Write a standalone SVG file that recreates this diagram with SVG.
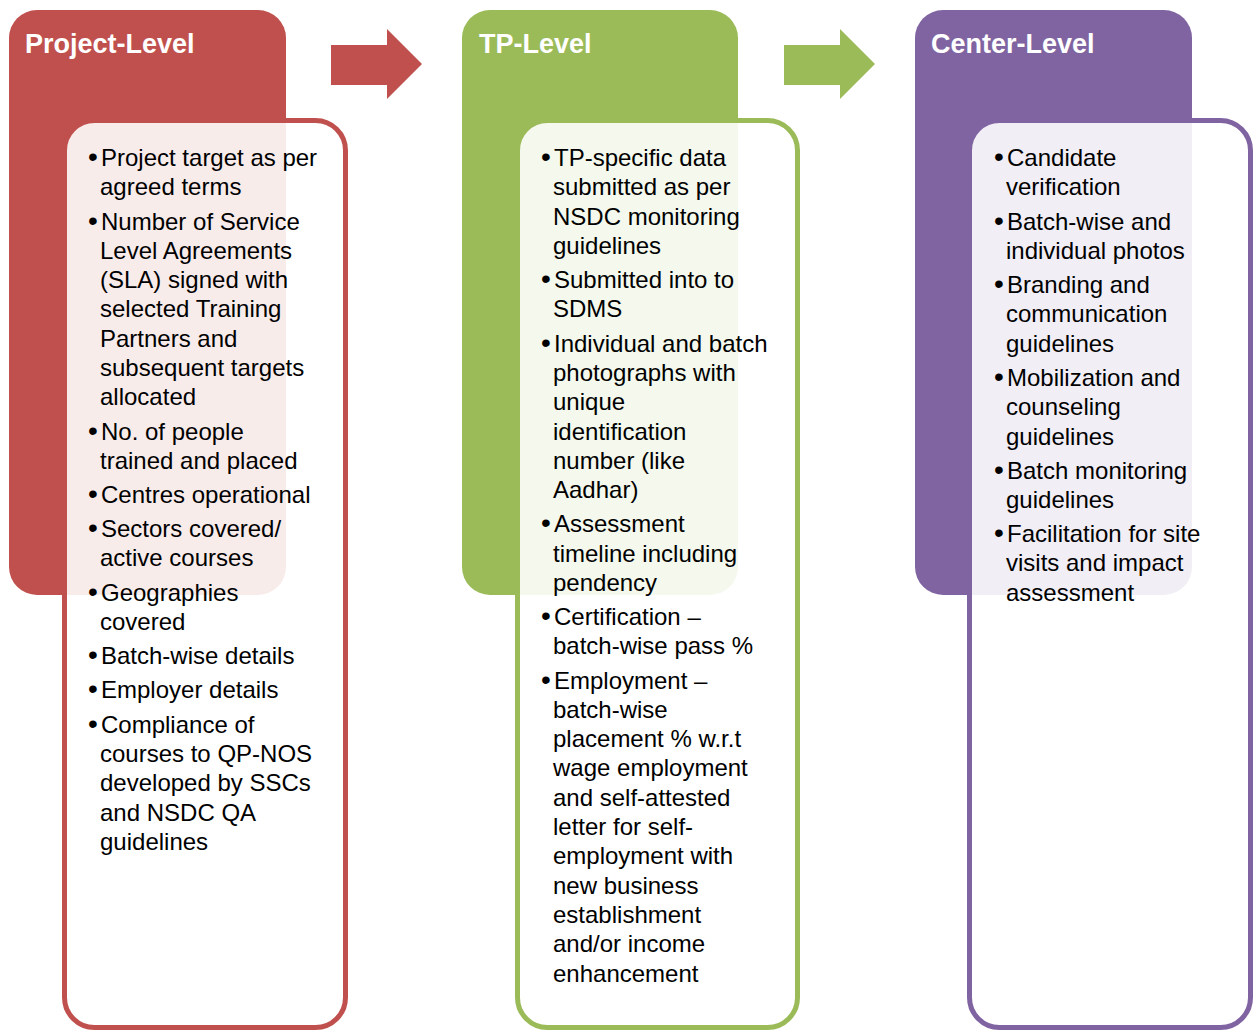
<svg xmlns="http://www.w3.org/2000/svg" width="1253" height="1030" viewBox="0 0 1253 1030">
<style>
.h{font-family:"Liberation Sans",Arial,sans-serif;font-weight:bold;font-size:27px;fill:#fff}
.t{font-family:"Liberation Sans",Arial,sans-serif;font-size:24px;fill:#000}
.b{font-size:28px}
.box{stroke-width:5;fill:#fff;fill-opacity:0.89}
</style>
<rect width="1253" height="1030" fill="#fff"/>
<g id="connectors">
<polygon points="331,45 387,45 387,29 422,64 387,99 387,85 331,85" fill="#C0504D"/>
<polygon points="784,45 840,45 840,29 875,64 840,99 840,85 784,85" fill="#9BBB59"/>
</g>
<g id="project-level">
<rect x="9" y="10" width="277" height="585" rx="28" fill="#C0504D"/>
<text class="h" x="25" y="53">Project-Level</text>
<rect class="box" x="64.5" y="120.5" width="281" height="907" rx="30" stroke="#C0504D"/>
<g class="t">
<text x="88" y="166"><tspan class="b">•</tspan><tspan x="101">Project target as per</tspan></text>
<text x="100" y="195">agreed terms</text>
<text x="88" y="230"><tspan class="b">•</tspan><tspan x="101">Number of Service</tspan></text>
<text x="100" y="259">Level Agreements</text>
<text x="100" y="288">(SLA) signed with</text>
<text x="100" y="317">selected Training</text>
<text x="100" y="347">Partners and</text>
<text x="100" y="376">subsequent targets</text>
<text x="100" y="405">allocated</text>
<text x="88" y="440"><tspan class="b">•</tspan><tspan x="101">No. of people</tspan></text>
<text x="100" y="469">trained and placed</text>
<text x="88" y="503"><tspan class="b">•</tspan><tspan x="101">Centres operational</tspan></text>
<text x="88" y="537"><tspan class="b">•</tspan><tspan x="101">Sectors covered/</tspan></text>
<text x="100" y="566">active courses</text>
<text x="88" y="601"><tspan class="b">•</tspan><tspan x="101">Geographies</tspan></text>
<text x="100" y="630">covered</text>
<text x="88" y="664"><tspan class="b">•</tspan><tspan x="101">Batch-wise details</tspan></text>
<text x="88" y="698"><tspan class="b">•</tspan><tspan x="101">Employer details</tspan></text>
<text x="88" y="733"><tspan class="b">•</tspan><tspan x="101">Compliance of</tspan></text>
<text x="100" y="762">courses to QP-NOS</text>
<text x="100" y="791">developed by SSCs</text>
<text x="100" y="821">and NSDC QA</text>
<text x="100" y="850">guidelines</text>
</g>
</g>
<g id="tp-level">
<rect x="462" y="10" width="276" height="585" rx="28" fill="#9BBB59"/>
<text class="h" x="479" y="53">TP-Level</text>
<rect class="box" x="517.5" y="120.5" width="280" height="907" rx="30" stroke="#9BBB59"/>
<g class="t">
<text x="541" y="166"><tspan class="b">•</tspan><tspan x="554">TP-specific data</tspan></text>
<text x="553" y="195">submitted as per</text>
<text x="553" y="225">NSDC monitoring</text>
<text x="553" y="254">guidelines</text>
<text x="541" y="288"><tspan class="b">•</tspan><tspan x="554">Submitted into to</tspan></text>
<text x="553" y="317">SDMS</text>
<text x="541" y="352"><tspan class="b">•</tspan><tspan x="554">Individual and batch</tspan></text>
<text x="553" y="381">photographs with</text>
<text x="553" y="410">unique</text>
<text x="553" y="440">identification</text>
<text x="553" y="469">number (like</text>
<text x="553" y="498">Aadhar)</text>
<text x="541" y="532"><tspan class="b">•</tspan><tspan x="554">Assessment</tspan></text>
<text x="553" y="562">timeline including</text>
<text x="553" y="591">pendency</text>
<text x="541" y="625"><tspan class="b">•</tspan><tspan x="554">Certification –</tspan></text>
<text x="553" y="654">batch-wise pass %</text>
<text x="541" y="689"><tspan class="b">•</tspan><tspan x="554">Employment –</tspan></text>
<text x="553" y="718">batch-wise</text>
<text x="553" y="747">placement % w.r.t</text>
<text x="553" y="776">wage employment</text>
<text x="553" y="806">and self-attested</text>
<text x="553" y="835">letter for self-</text>
<text x="553" y="864">employment with</text>
<text x="553" y="894">new business</text>
<text x="553" y="923">establishment</text>
<text x="553" y="952">and/or income</text>
<text x="553" y="982">enhancement</text>
</g>
</g>
<g id="center-level">
<rect x="915" y="10" width="277" height="585" rx="28" fill="#8064A2"/>
<text class="h" x="931" y="53">Center-Level</text>
<rect class="box" x="969.5" y="120.5" width="281" height="907" rx="30" stroke="#8064A2"/>
<g class="t">
<text x="994" y="166"><tspan class="b">•</tspan><tspan x="1007">Candidate</tspan></text>
<text x="1006" y="195">verification</text>
<text x="994" y="230"><tspan class="b">•</tspan><tspan x="1007">Batch-wise and</tspan></text>
<text x="1006" y="259">individual photos</text>
<text x="994" y="293"><tspan class="b">•</tspan><tspan x="1007">Branding and</tspan></text>
<text x="1006" y="322">communication</text>
<text x="1006" y="352">guidelines</text>
<text x="994" y="386"><tspan class="b">•</tspan><tspan x="1007">Mobilization and</tspan></text>
<text x="1006" y="415">counseling</text>
<text x="1006" y="445">guidelines</text>
<text x="994" y="479"><tspan class="b">•</tspan><tspan x="1007">Batch monitoring</tspan></text>
<text x="1006" y="508">guidelines</text>
<text x="994" y="542"><tspan class="b">•</tspan><tspan x="1007">Facilitation for site</tspan></text>
<text x="1006" y="571">visits and impact</text>
<text x="1006" y="601">assessment</text>
</g>
</g>
</svg>
